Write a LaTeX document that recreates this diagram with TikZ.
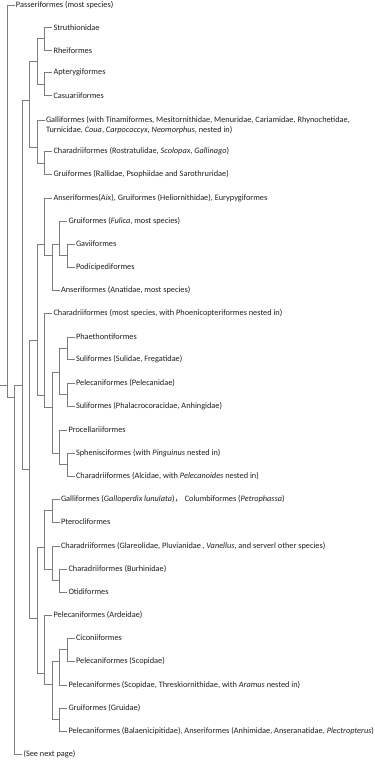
\documentclass[tikz,border=0pt]{standalone}
\usepackage{fontspec}
\setmainfont{Carlito}
\newfontfamily\cjkfont{Noto Sans CJK SC}
\definecolor{cladeline}{RGB}{125,125,125}
\definecolor{taxontext}{RGB}{30,30,30}
\tikzset{branch/.style={cladeline,line width=0.9pt},
  taxon/.style={anchor=west,inner sep=1pt,font=\fontsize{8.3}{10}\selectfont,text=taxontext,align=left}}
\begin{document}
\begin{tikzpicture}[x=1pt,y=-1pt]
\useasboundingbox (0,0) rectangle (375,761);
% branching points
\foreach \n/\x/\y in {root/0/385, n7/7.3/385, n15/14.8/397, n22/22.3/385,
  ratgal/29.8/100, ratite/37.3/61, strrhe/44.8/38.5, aptcas/44.8/84,
  galcl/37.3/147, chagru/44.8/163, gallin/44.8/120,
  neo/29.8/469, anscha/37.3/340, ansA/44.8/244, ansB/52.3/255.5,
  gruC/59.8/244, gavpod/67.3/255.5, chaE/44.8/395, chaF/52.3/407,
  pelG/59.8/372, phasul/67.3/348, pelsul/67.3/394.5, proH/59.8/453,
  sphcha/67.3/464.5, pelcl/37.3/618, galI/44.8/547, galpte/52.3/510.5,
  chaI/52.3/569, buroti/59.8/580.5, pelJ/44.8/673, pelK/52.3/684.5,
  cicL/59.8/661, cicpel/67.3/649.5, gruM/59.8/719.5}
  \coordinate (\n) at (\x,\y);
% taxa
\node[taxon] (pass) at (14.8,5) {Passeriformes (most species)};
\node[taxon] (struth) at (52.3,27.5) {Struthionidae};
\node[taxon] (rhei) at (52.3,50.5) {Rheiformes};
\node[taxon] (apter) at (52.3,72.5) {Apterygiformes};
\node[taxon] (casu) at (52.3,95.5) {Casuariiformes};
\node[taxon] (gall) at (44.8,125) {Galliformes (with Tinamiformes, Mesitornithidae, Menuridae, Cariamidae, Rhynochetidae,\\
  Turnicidae, \textit{Coua}, \textit{Carpococcyx}, \textit{Neomorphus}, nested in)};
\node[taxon] (charos) at (52.3,151.5) {Charadriiformes (Rostratulidae, \textit{Scolopax}, \textit{Gallinago})};
\node[taxon] (gruiral) at (52.3,174.5) {Gruiformes (Rallidae, Psophiidae and Sarothruridae)};
\node[taxon] (ansaix) at (52.3,198) {Anseriformes(\textit{Aix}), Gruiformes (Heliornithidae), Eurypygiformes};
\node[taxon] (gruful) at (67.3,221) {Gruiformes (\textit{Fulica}, most species)};
\node[taxon] (gavi) at (74.8,244) {Gaviiformes};
\node[taxon] (podi) at (74.8,267) {Podicipediformes};
\node[taxon] (ansana) at (59.8,290) {Anseriformes (Anatidae, most species)};
\node[taxon] (chamost) at (52.3,313) {Charadriiformes (most species, with Phoenicopteriformes nested in)};
\node[taxon] (phae) at (74.8,337) {Phaethontiformes};
\node[taxon] (sulsul) at (74.8,359.5) {Suliformes (Sulidae, Fregatidae)};
\node[taxon] (pelpel) at (74.8,383) {Pelecaniformes (Pelecanidae)};
\node[taxon] (sulpha) at (74.8,406) {Suliformes (Phalacrocoracidae, Anhingidae)};
\node[taxon] (proc) at (67.3,430) {Procellariiformes};
\node[taxon] (sphe) at (74.8,453) {Sphenisciformes (with \textit{Pinguinus} nested in)};
\node[taxon] (chaalc) at (74.8,476) {Charadriiformes (Alcidae, with \textit{Pelecanoides} nested in)};
\node[taxon] (galgall) at (59.8,499) {Galliformes (\textit{Galloperdix lunulata}){\cjkfont ，}\ Columbiformes (\textit{Petrophassa})};
\node[taxon] (ptero) at (59.8,522) {Pterocliformes};
\node[taxon] (chaglar) at (59.8,546) {Charadriiformes (Glareolidae, Pluvianidae\,, \textit{Vanellus}, and serverl other species)};
\node[taxon] (chabur) at (67.3,569) {Charadriiformes (Burhinidae)};
\node[taxon] (otid) at (67.3,592) {Otidiformes};
\node[taxon] (pelard) at (52.3,615) {Pelecaniformes (Ardeidae)};
\node[taxon] (cico) at (74.8,638) {Ciconiiformes};
\node[taxon] (pelsco) at (74.8,661) {Pelecaniformes (Scopidae)};
\node[taxon] (pelthr) at (67.3,685) {Pelecaniformes (Scopidae, Threskiornithidae, with \textit{Aramus} nested in)};
\node[taxon] (gruigrui) at (67.3,708) {Gruiformes (Gruidae)};
\node[taxon] (pelbal) at (67.3,731) {Pelecaniformes (Balaenicipitidae), Anseriformes (Anhimidae, Anseranatidae, \textit{Plectropterus})};
\node[taxon] (nextpage) at (22.3,754) {(See next page)};
% branches
\draw[branch] (root) -- (n7);
\foreach \p/\c in {n7/pass, n7/n15, n15/n22, n15/nextpage, n22/ratgal, n22/neo,
  ratgal/ratite, ratgal/galcl, ratite/strrhe, ratite/aptcas, strrhe/struth,
  strrhe/rhei, aptcas/apter, aptcas/casu, galcl/gallin, galcl/chagru,
  chagru/charos, chagru/gruiral, neo/anscha, neo/pelcl, anscha/ansA,
  anscha/chaE, ansA/ansaix, ansA/ansB, ansB/gruC, ansB/ansana, gruC/gruful,
  gruC/gavpod, gavpod/gavi, gavpod/podi, chaE/chamost, chaE/chaF, chaF/pelG,
  chaF/proH, pelG/phasul, pelG/pelsul, phasul/phae, phasul/sulsul,
  pelsul/pelpel, pelsul/sulpha, proH/proc, proH/sphcha, sphcha/sphe,
  sphcha/chaalc, pelcl/galI, pelcl/pelJ, galI/galpte, galI/chaI,
  galpte/galgall, galpte/ptero, chaI/chaglar, chaI/buroti, buroti/chabur,
  buroti/otid, pelJ/pelard, pelJ/pelK, pelK/cicL, pelK/gruM, cicL/cicpel,
  cicL/pelthr, cicpel/cico, cicpel/pelsco, gruM/gruigrui, gruM/pelbal}
  \draw[branch] (\p) |- (\c);
\end{tikzpicture}
\end{document}
